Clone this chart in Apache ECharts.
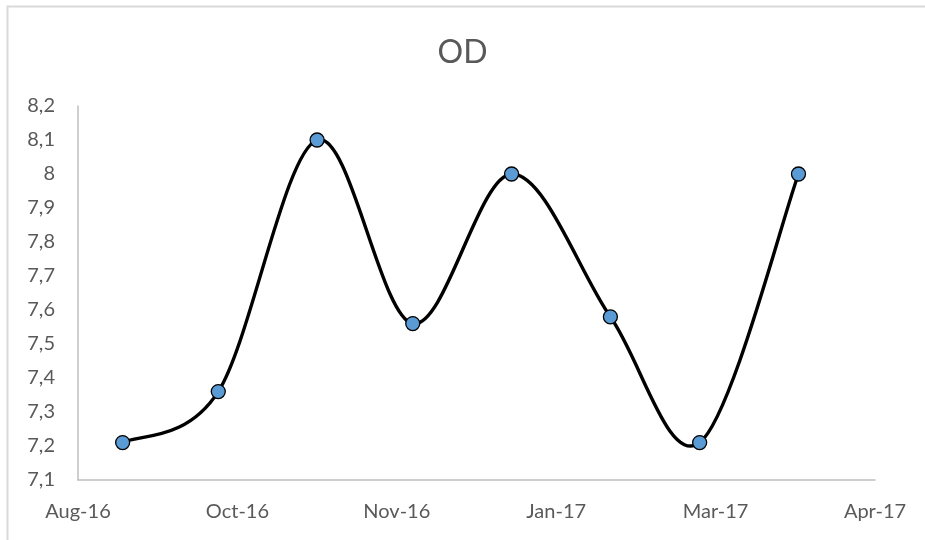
<!DOCTYPE html>
<html>
<head>
<meta charset="utf-8">
<title>OD</title>
<script src="https://cdn.jsdelivr.net/npm/echarts@6/dist/echarts.min.js"></script>
<style>
  html, body { margin: 0; padding: 0; background: #fff; }
  #chart { width: 925px; height: 540px; }
</style>
</head>
<body>
<div id="chart"></div>
<script>
// Monthly OD readings
const sampleDates = ['2016-09-01', '2016-10-01', '2016-11-01', '2016-12-01',
                     '2017-01-01', '2017-02-01', '2017-03-01', '2017-04-01'];
const odValues = [7.21, 7.36, 8.1, 7.56, 8.0, 7.58, 7.21, 8.0];

// Date axis in spreadsheet day serials, one tick every 50 days
const xAxisMin = 42600;   // 18 Aug 2016
const xAxisMax = 42850;
const xAxisStep = 50;
const yAxisMin = 7.1;
const yAxisMax = 8.2;
const yAxisStep = 0.1;
const monthNames = ['Jan', 'Feb', 'Mar', 'Apr', 'May', 'Jun',
                    'Jul', 'Aug', 'Sep', 'Oct', 'Nov', 'Dec'];

function toSerial(iso) {
  return Math.round(Date.parse(iso + 'T00:00:00Z') / 86400000) + 25569;
}
function serialLabel(serial) {
  const d = new Date((serial - 25569) * 86400000);
  return monthNames[d.getUTCMonth()] + '-' + String(d.getUTCFullYear()).slice(2);
}
function decimalComma(v) {
  return String(Number(v.toFixed(2))).replace('.', ',');
}

const points = sampleDates.map((d, i) => [toSerial(d), odValues[i]]);

// Catmull-Rom style smoothing: each segment becomes a cubic Bezier
function renderSegment(params, api) {
  const i = params.dataIndex;
  if (i >= points.length - 1) return null;
  const c = points.map(p => api.coord(p));
  const p0 = c[Math.max(i - 1, 0)];
  const p1 = c[i];
  const p2 = c[i + 1];
  const p3 = c[Math.min(i + 2, c.length - 1)];
  const k = 1 / 6;
  return {
    type: 'bezierCurve',
    shape: {
      x1: p1[0], y1: p1[1],
      x2: p2[0], y2: p2[1],
      cpx1: p1[0] + (p2[0] - p0[0]) * k,
      cpy1: p1[1] + (p2[1] - p0[1]) * k,
      cpx2: p2[0] - (p3[0] - p1[0]) * k,
      cpy2: p2[1] - (p3[1] - p1[1]) * k
    },
    style: { stroke: '#000', lineWidth: 3.4, fill: null, lineCap: 'round' }
  };
}

const chart = echarts.init(document.getElementById('chart'), null, { renderer: 'canvas' });
const labelFont = { color: '#595959', fontFamily: 'Lato, "Open Sans", sans-serif', fontSize: 20 };

chart.setOption({
  backgroundColor: '#fff',
  animation: false,
  title: {
    text: 'OD',
    left: 'center',
    top: 32,
    textStyle: { color: '#595959', fontFamily: 'Lato, "Open Sans", sans-serif', fontSize: 32, fontWeight: 'normal' }
  },
  graphic: [{
    type: 'rect',
    shape: { x: 7.5, y: 6.5, width: 930, height: 545 },
    style: { fill: null, stroke: '#d9d9d9', lineWidth: 2 },
    silent: true
  }],
  grid: { left: 78, right: 50, top: 106, bottom: 60, containLabel: false },
  xAxis: {
    type: 'value',
    min: xAxisMin,
    max: xAxisMax,
    interval: xAxisStep,
    axisLine: { show: true, lineStyle: { color: '#bfbfbf', width: 1.5 } },
    axisTick: { show: false },
    splitLine: { show: false },
    axisLabel: Object.assign({ margin: 22, formatter: serialLabel }, labelFont)
  },
  yAxis: {
    type: 'value',
    min: yAxisMin,
    max: yAxisMax,
    interval: yAxisStep,
    axisLine: { show: true, lineStyle: { color: '#bfbfbf', width: 1.5 } },
    axisTick: { show: false },
    splitLine: { show: false },
    axisLabel: Object.assign({ margin: 23, formatter: decimalComma }, labelFont)
  },
  series: [
    {
      type: 'custom',
      renderItem: renderSegment,
      data: points,
      encode: { x: 0, y: 1 },
      z: 2,
      silent: true
    },
    {
      type: 'scatter',
      data: points,
      symbol: 'circle',
      symbolSize: 14,
      itemStyle: { color: '#5B9BD5', borderColor: '#000', borderWidth: 1.3, opacity: 1 },
      z: 3,
      silent: true
    }
  ]
});
</script>
</body>
</html>
